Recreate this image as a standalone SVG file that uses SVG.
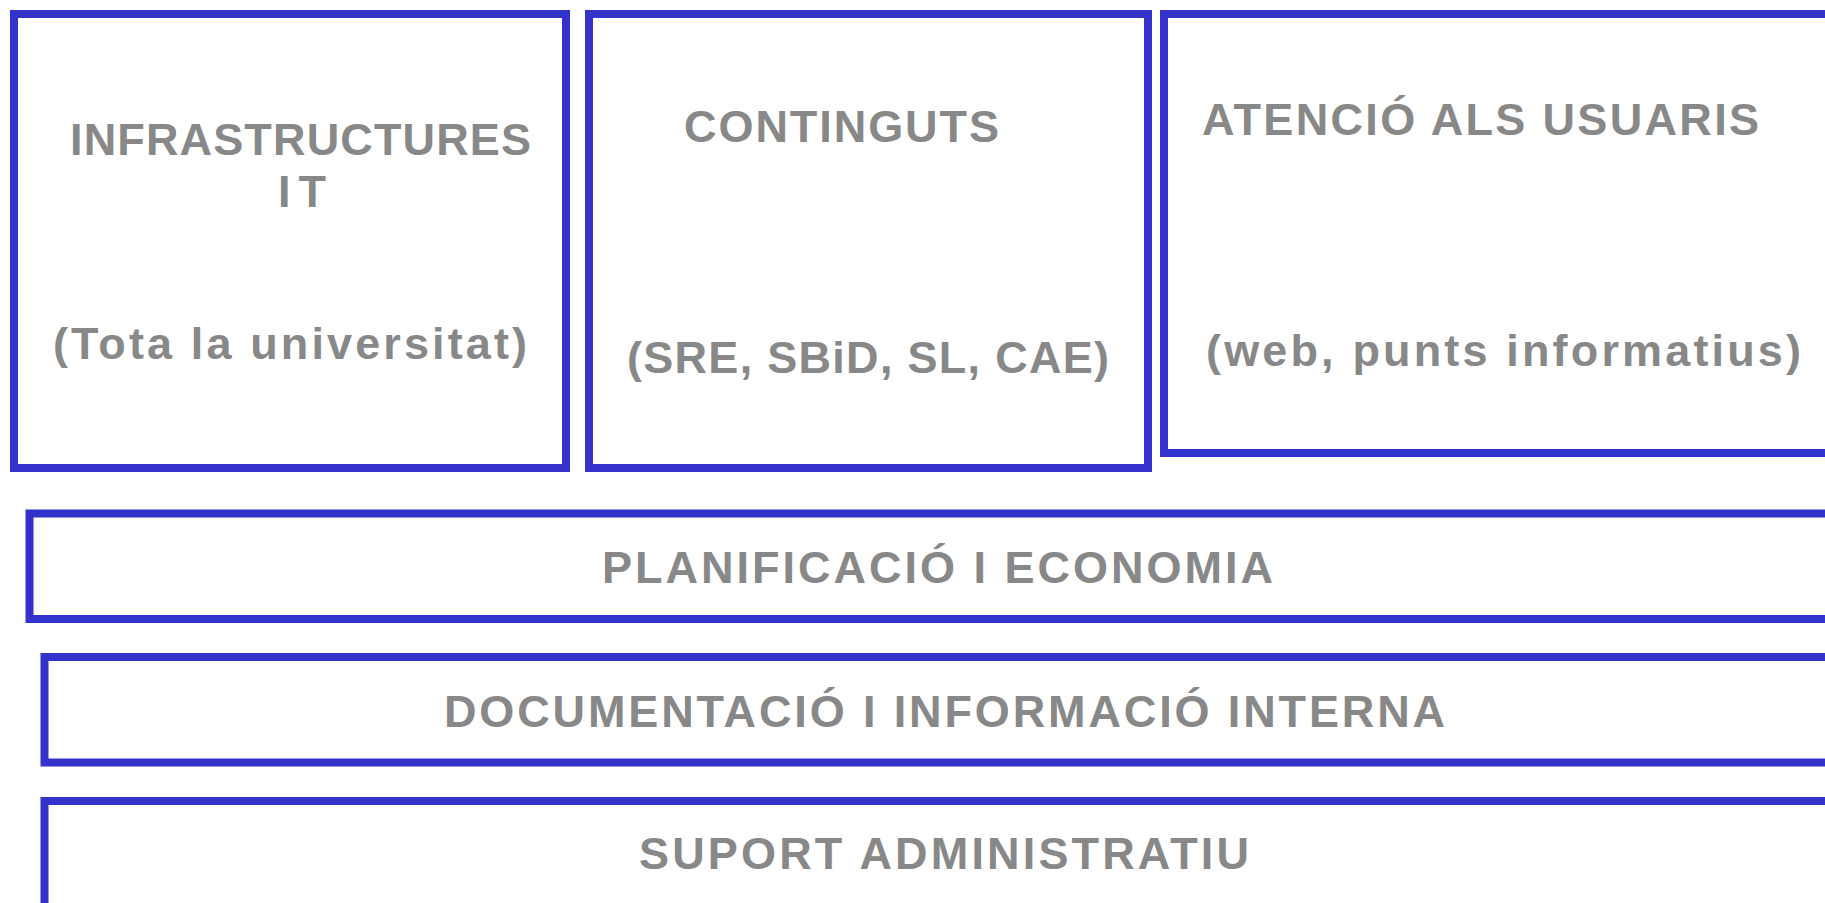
<svg xmlns="http://www.w3.org/2000/svg" width="1825" height="903" viewBox="0 0 1825 903">
<style>
.box{fill:#ffffff;stroke:#3333cc;stroke-width:8}
.t{font-family:"Liberation Sans",Arial,sans-serif;font-weight:bold;font-size:45px;fill:#888888}
</style>
<rect width="1825" height="903" fill="#ffffff"/>
<g id="infraestructures">
<rect class="box" x="14" y="14" width="552" height="454"/>
<text class="t" x="70" y="155" textLength="461" lengthAdjust="spacing">INFRASTRUCTURES</text>
<text class="t" x="278" y="207" textLength="48" lengthAdjust="spacing">IT</text>
<text class="t" x="53" y="359" textLength="474" lengthAdjust="spacing">(Tota la universitat)</text>
</g>
<g id="continguts">
<rect class="box" x="589" y="14" width="559" height="454"/>
<text class="t" x="684" y="142" textLength="315" lengthAdjust="spacing">CONTINGUTS</text>
<text class="t" x="627" y="373" textLength="482" lengthAdjust="spacing">(SRE, SBiD, SL, CAE)</text>
</g>
<g id="atencio">
<rect class="box" x="1164" y="14" width="680" height="439"/>
<text class="t" x="1202" y="135" textLength="557" lengthAdjust="spacing">ATENCIÓ ALS USUARIS</text>
<text class="t" x="1206" y="366" textLength="595" lengthAdjust="spacing">(web, punts informatius)</text>
</g>
<g id="planificacio">
<rect class="box" x="29.5" y="513.5" width="1815" height="105.5"/>
<text class="t" x="602" y="583" textLength="671" lengthAdjust="spacing">PLANIFICACIÓ I ECONOMIA</text>
</g>
<g id="documentacio">
<rect class="box" x="44.5" y="657" width="1800" height="105.5"/>
<text class="t" x="444" y="727" textLength="1001" lengthAdjust="spacing">DOCUMENTACIÓ I INFORMACIÓ INTERNA</text>
</g>
<g id="suport">
<rect class="box" x="44.5" y="801" width="1800" height="106"/>
<text class="t" x="639" y="869" textLength="610" lengthAdjust="spacing">SUPORT ADMINISTRATIU</text>
</g>
<g id="connectors"></g>
</svg>
